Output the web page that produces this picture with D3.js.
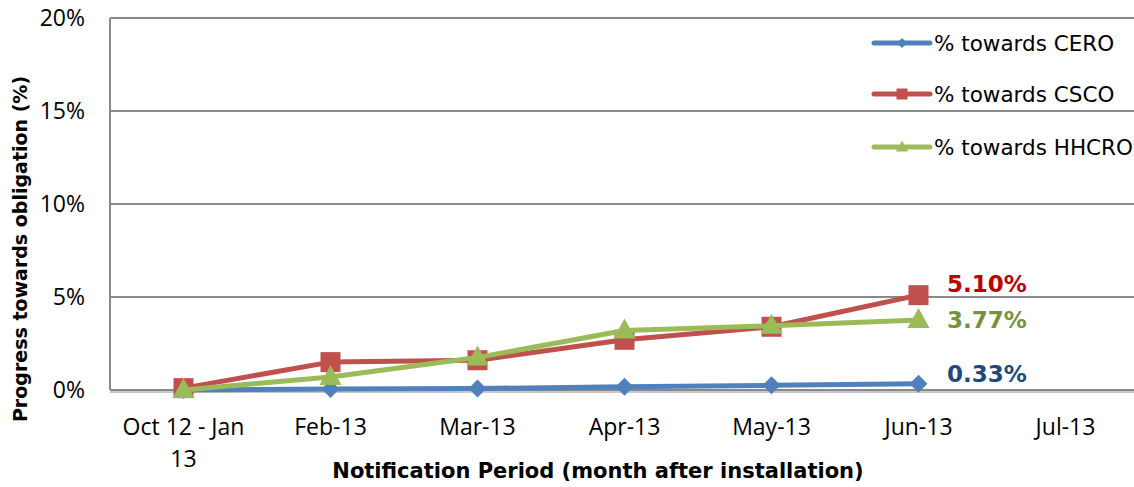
<!DOCTYPE html>
<html>
<head>
<meta charset="utf-8">
<script src="https://cdn.jsdelivr.net/npm/d3@7"></script>
<style>
  body { margin: 0; background: #fff; }
  svg { display: block; }
</style>
</head>
<body>
<svg id="chart" width="1134" height="487"></svg>
<script>
// data
const categories = ["Oct 12 - Jan 13", "Feb-13", "Mar-13", "Apr-13", "May-13", "Jun-13", "Jul-13"];
const ceroValues = [0, 0.05, 0.08, 0.18, 0.25, 0.33];
const cscoValues = [0.1, 1.5, 1.6, 2.7, 3.4, 5.10];
const hhcroValues = [0, 0.7, 1.75, 3.2, 3.45, 3.77];
const yTicks = [0, 5, 10, 15, 20];
const seriesNames = ["% towards CERO", "% towards CSCO", "% towards HHCRO"];
const endLabels = ["0.33%", "5.10%", "3.77%"];

const series = [
  { name: seriesNames[0], values: ceroValues, color: "#4F81BD", labelColor: "#1F497D", marker: "diamond", label: endLabels[0] },
  { name: seriesNames[1], values: cscoValues, color: "#C0504D", labelColor: "#C00000", marker: "square", label: endLabels[1] },
  { name: seriesNames[2], values: hhcroValues, color: "#9BBB59", labelColor: "#77933C", marker: "triangle", label: endLabels[2] }
];

const margin = { left: 110, right: -5, top: 18, bottom: 97 };
const width = 1134, height = 487;
const tickFont = "'Open Sans', 'Liberation Sans', sans-serif";
const boldFont = "'DejaVu Sans', Verdana, sans-serif";

const svg = d3.select("#chart");

const xScale = d3.scaleBand()
  .domain(categories)
  .range([margin.left, width - margin.right])
  .paddingInner(0)
  .paddingOuter(0);

const yScale = d3.scaleLinear()
  .domain([0, 20])
  .range([height - margin.bottom, margin.top]);

const cx = d => xScale(d) + xScale.bandwidth() / 2;

// gridlines
svg.append("g")
  .selectAll("line")
  .data(yTicks.filter(t => t > 0))
  .enter()
  .append("line")
  .attr("x1", margin.left)
  .attr("x2", width)
  .attr("y1", d => yScale(d))
  .attr("y2", d => yScale(d))
  .style("stroke", "#898989")
  .style("stroke-width", 2);

// left axis line
svg.append("line")
  .attr("x1", margin.left).attr("x2", margin.left)
  .attr("y1", yScale(20)).attr("y2", yScale(0))
  .style("stroke", "#898989")
  .style("stroke-width", 2);

// base line with a faint shadow
svg.append("line")
  .attr("x1", margin.left).attr("x2", width)
  .attr("y1", yScale(0) + 2).attr("y2", yScale(0) + 2)
  .style("stroke", "#c8c8c8")
  .style("stroke-width", 2);
svg.append("line")
  .attr("x1", margin.left).attr("x2", width)
  .attr("y1", yScale(0)).attr("y2", yScale(0))
  .style("stroke", "#898989")
  .style("stroke-width", 2);

// y tick labels
svg.append("g")
  .selectAll("text")
  .data(yTicks)
  .enter()
  .append("text")
  .attr("x", 85)
  .attr("y", d => yScale(d))
  .attr("dy", "0.35em")
  .attr("text-anchor", "end")
  .text(d => d + "%")
  .style("font-family", tickFont)
  .style("font-size", "23px")
  .style("fill", "#000");

// x tick labels
const xLabels = svg.append("g");
categories.forEach(c => {
  const lines = c === "Oct 12 - Jan 13" ? ["Oct 12 - Jan", "13"] : [c];
  const t = xLabels.append("text")
    .attr("text-anchor", "middle")
    .style("font-family", tickFont)
    .style("font-size", "23px")
    .style("fill", "#000");
  lines.forEach((l, i) => {
    t.append("tspan")
      .attr("x", cx(c))
      .attr("y", 435 + i * 32)
      .text(l);
  });
});

// axis titles
svg.append("text")
  .attr("text-anchor", "middle")
  .attr("x", 598)
  .attr("y", 478)
  .text("Notification Period (month after installation)")
  .style("font-family", boldFont)
  .style("font-weight", "bold")
  .style("font-size", "21px")
  .style("fill", "#000");

svg.append("text")
  .attr("text-anchor", "middle")
  .attr("transform", "translate(27,249) rotate(-90)")
  .text("Progress towards obligation (%)")
  .style("font-family", boldFont)
  .style("font-weight", "bold")
  .style("font-size", "19px")
  .style("fill", "#000");

// marker shapes
const markerPath = (type) => {
  if (type === "diamond") return "M0,-9L9,0L0,9L-9,0Z";
  if (type === "square") return "M-10,-10H10V10H-10Z";
  return "M0,-12L11,8H-11Z";
};

const line = d3.line()
  .x((d, i) => cx(categories[i]))
  .y(d => yScale(d));

series.forEach(s => {
  const g = svg.append("g");
  g.append("path")
    .datum(s.values)
    .attr("d", line)
    .style("fill", "none")
    .style("stroke", s.color)
    .style("stroke-width", 5)
    .style("stroke-linejoin", "round");
  g.selectAll("path.mk")
    .data(s.values)
    .enter()
    .append("path")
    .attr("class", "mk")
    .attr("d", markerPath(s.marker))
    .attr("transform", (d, i) => "translate(" + cx(categories[i]) + "," + yScale(d) + ")")
    .style("fill", s.color);
});

// end-of-series value labels
const lastIdx = 5;
const labelOffsets = { "0.33%": -10, "5.10%": -11, "3.77%": 0 };
series.forEach(s => {
  svg.append("text")
    .attr("x", 947)
    .attr("y", yScale(s.values[lastIdx]) + labelOffsets[s.label])
    .attr("dy", "0.35em")
    .text(s.label)
    .style("font-family", boldFont)
    .style("font-weight", "bold")
    .style("font-size", "23px")
    .style("fill", s.labelColor);
});

// legend
const legendY = [43, 94, 147];
const legend = svg.append("g");
series.forEach((s, i) => {
  const lg = legend.append("g").attr("transform", "translate(874," + legendY[i] + ")");
  lg.append("line")
    .attr("x1", 0).attr("x2", 56)
    .attr("y1", 0).attr("y2", 0)
    .style("stroke", s.color)
    .style("stroke-width", 5)
    .style("stroke-linecap", "round");
  lg.append("path")
    .attr("d", markerPath(s.marker))
    .attr("transform", "translate(28,0) scale(0.55)")
    .style("fill", s.color);
  lg.append("text")
    .attr("x", 60)
    .attr("y", 0)
    .attr("dy", "0.35em")
    .text(s.name)
    .style("font-family", boldFont)
    .style("font-size", "21.5px")
    .style("fill", "#000");
});
</script>
</body>
</html>
